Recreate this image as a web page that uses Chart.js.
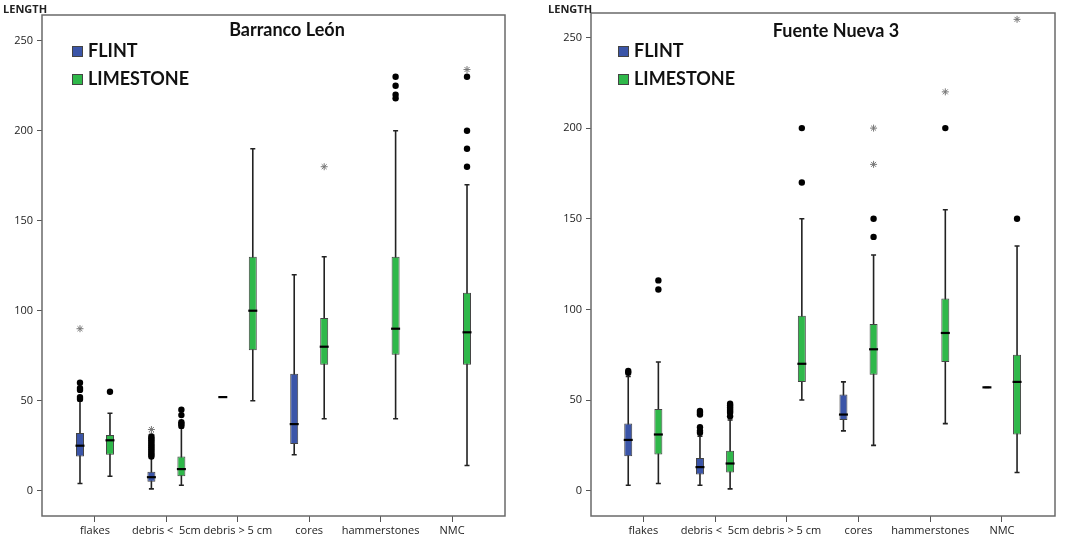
<!DOCTYPE html>
<html>
<head>
<meta charset="utf-8">
<script src="https://cdn.jsdelivr.net/npm/chart.js@4.4.1/dist/chart.umd.min.js"></script>
<style>
  body { margin: 0; background: #fff; }
  #wrap { position: relative; width: 1072px; height: 540px; overflow: hidden; }
  canvas { position: absolute; top: 0; }
  .axt { position: absolute; top: 1px; font: bold 11px 'Open Sans', sans-serif; color: #222; }
  .ttl { position: absolute; width: 300px; text-align: center; font: bold 18px Lato, sans-serif; color: #111; line-height: 20px; }
  .leg { position: absolute; font: bold 18px Lato, sans-serif; color: #111; line-height: 20px; }
  .leg i { position: absolute; width: 9px; height: 9px; border: 1px solid #444; }
</style>
</head>
<body>
<div id="wrap">
  <canvas id="bl" width="536" height="540" style="left:0"></canvas>
  <canvas id="fn" width="536" height="540" style="left:536px"></canvas>

  <div class="axt" style="left:3px">LENGTH</div>
  <div class="axt" style="left:548px">LENGTH</div>

  <div class="ttl" style="left:137px;top:19px">Barranco León</div>
  <div class="ttl" style="left:686px;top:20px">Fuente Nueva 3</div>

  <div class="leg" style="left:88px;top:40px">FLINT<i style="left:-16px;top:6px;background:#3b55a8"></i></div>
  <div class="leg" style="left:88px;top:68px">LIMESTONE<i style="left:-16px;top:6px;background:#2fb84a"></i></div>
  <div class="leg" style="left:634px;top:40px">FLINT<i style="left:-16px;top:6px;background:#3b55a8"></i></div>
  <div class="leg" style="left:634px;top:68px">LIMESTONE<i style="left:-16px;top:6px;background:#2fb84a"></i></div>
</div>

<script>
const categories = ['flakes', 'debris <  5cm', 'debris > 5 cm', 'cores', 'hammerstones', 'NMC'];
const yTicks = [0, 50, 100, 150, 200, 250];

// Barranco León
const blFlintLow = [4, 1, 52, 20, null, null];
const blFlintQ1  = [19, 5, 52, 26, null, null];
const blFlintMed = [25, 7.5, 52, 37, null, null];
const blFlintQ3  = [32, 10.5, 52, 65, null, null];
const blFlintHigh = [50, 18, 52, 120, null, null];
const blLimeLow = [8, 3, 50, 40, 40, 14];
const blLimeQ1  = [20, 8, 78, 70, 75.5, 70];
const blLimeMed = [28, 12, 100, 80, 90, 88];
const blLimeQ3  = [31, 19, 130, 96, 130, 110];
const blLimeHigh = [43, 35, 190, 130, 200, 170];
// outliers as [category index, value]
const blFlintOut = [[0, 51], [0, 52], [0, 56], [0, 57], [0, 60],
  [1, 19], [1, 20], [1, 21], [1, 22], [1, 23], [1, 24], [1, 25], [1, 26], [1, 27], [1, 28], [1, 29], [1, 30]];
const blFlintExt = [[0, 90], [1, 31], [1, 34]];
const blLimeOut = [[0, 55], [1, 36], [1, 37], [1, 38], [1, 42], [1, 45],
  [4, 218], [4, 220], [4, 225], [4, 230], [5, 180], [5, 190], [5, 200], [5, 230]];
const blLimeExt = [[3, 180], [5, 234]];

// Fuente Nueva 3
const fnFlintLow = [3, 3, null, 33, null, 57];
const fnFlintQ1  = [19, 9, null, 39, null, 57];
const fnFlintMed = [28, 13, null, 42, null, 57];
const fnFlintQ3  = [37, 18, null, 53, null, 57];
const fnFlintHigh = [63, 30, null, 60, null, 57];
const fnLimeLow = [4, 1, 50, 25, 37, 10];
const fnLimeQ1  = [20, 10, 60, 64, 71, 31];
const fnLimeMed = [31, 15, 70, 78, 87, 60];
const fnLimeQ3  = [45, 22, 96.5, 92, 106, 75];
const fnLimeHigh = [71, 39, 150, 130, 155, 135];
const fnFlintOut = [[0, 65], [0, 66], [1, 32], [1, 33], [1, 35], [1, 42], [1, 43], [1, 44]];
const fnFlintExt = [];
const fnLimeOut = [[0, 111], [0, 116], [1, 41], [1, 43], [1, 44], [1, 45], [1, 46], [1, 47], [1, 48],
  [2, 170], [2, 200], [3, 140], [3, 150], [4, 200], [5, 150]];
const fnLimeExt = [[3, 180], [3, 200], [4, 220], [5, 260]];

const FLINT = '#3b55a8';
const LIME = '#2fb84a';
const SHIFT = 0.21;

function boxData(low, q1, med, q3, high, shift) {
  const out = [];
  categories.forEach((c, i) => {
    if (q1[i] == null) return;
    out.push({ x: i + shift, y: [q1[i], q3[i]], low: low[i], med: med[i], high: high[i] });
  });
  return out;
}

function pts(list, shift) {
  return list.map(p => ({ x: p[0] + shift, y: p[1] }));
}

const boxPlugin = {
  id: 'boxparts',
  beforeDatasetsDraw(chart) {
    const ctx = chart.ctx, xs = chart.scales.x, ys = chart.scales.y;
    ctx.save();
    ctx.strokeStyle = '#222';
    chart.data.datasets.forEach(ds => {
      if (ds.type !== 'bar') return;
      ds.data.forEach(d => {
        const x = xs.getPixelForValue(d.x);
        const yl = ys.getPixelForValue(d.low), yh = ys.getPixelForValue(d.high);
        ctx.lineWidth = 1.6;
        ctx.beginPath();
        ctx.moveTo(x, yl); ctx.lineTo(x, yh);
        ctx.moveTo(x - 2.5, yl); ctx.lineTo(x + 2.5, yl);
        ctx.moveTo(x - 2.5, yh); ctx.lineTo(x + 2.5, yh);
        ctx.stroke();
      });
    });
    ctx.restore();
  },
  afterDatasetsDraw(chart) {
    const ctx = chart.ctx, xs = chart.scales.x, ys = chart.scales.y;
    ctx.save();
    ctx.strokeStyle = '#000';
    ctx.lineWidth = 2.2;
    chart.data.datasets.forEach(ds => {
      if (ds.type !== 'bar') return;
      ds.data.forEach(d => {
        const x = xs.getPixelForValue(d.x), y = ys.getPixelForValue(d.med);
        ctx.beginPath();
        ctx.moveTo(x - 4.5, y); ctx.lineTo(x + 4.5, y);
        ctx.stroke();
      });
    });
    const a = chart.chartArea;
    ctx.strokeStyle = '#6a6a6a';
    ctx.lineWidth = 1.5;
    ctx.strokeRect(a.left, a.top, a.right - a.left, a.bottom - a.top);
    ctx.restore();
  }
};

function makeChart(id, site) {
  const barDs = (data, color) => ({
    type: 'bar', data, backgroundColor: color, borderColor: '#444', borderWidth: 1,
    borderSkipped: false, grouped: false, maxBarThickness: 8, order: 2
  });
  const outDs = (data) => ({
    type: 'scatter', data, pointStyle: 'circle', pointRadius: 3.2,
    backgroundColor: '#000', borderColor: '#000', borderWidth: 0, order: 1
  });
  const extDs = (data) => ({
    type: 'scatter', data, pointStyle: 'star', pointRadius: 3.5,
    backgroundColor: '#777', borderColor: '#777', borderWidth: 1, order: 1
  });
  return new Chart(document.getElementById(id), {
    type: 'bar',
    data: {
      datasets: [
        barDs(boxData(site.fLow, site.fQ1, site.fMed, site.fQ3, site.fHigh, -SHIFT), FLINT),
        barDs(boxData(site.lLow, site.lQ1, site.lMed, site.lQ3, site.lHigh, SHIFT), LIME),
        outDs(pts(site.fOut, -SHIFT)),
        outDs(pts(site.lOut, SHIFT)),
        extDs(pts(site.fExt, -SHIFT)),
        extDs(pts(site.lExt, SHIFT))
      ]
    },
    options: {
      responsive: false,
      animation: false,
      layout: { padding: site.pad },
      plugins: { legend: { display: false }, tooltip: { enabled: false } },
      scales: {
        x: {
          type: 'linear', min: site.xMin, max: site.xMax, offset: false,
          afterBuildTicks: s => { s.ticks = categories.map((c, i) => ({ value: i })); },
          afterFit: s => { s.height = 24; },
          grid: { offset: false, drawOnChartArea: false, drawTicks: true, tickLength: 6, color: '#555' },
          border: { display: false },
          ticks: {
            callback: v => categories[v], autoSkip: false, maxRotation: 0, padding: 2,
            color: '#222', font: { family: 'Open Sans', size: 11 }
          }
        },
        y: {
          type: 'linear', min: site.yMin, max: site.yMax,
          afterBuildTicks: s => { s.ticks = yTicks.map(v => ({ value: v })); },
          afterFit: s => { s.width = site.yWidth; },
          grid: { drawOnChartArea: false, drawTicks: true, tickLength: 5, color: '#555' },
          border: { display: false },
          ticks: { padding: 4, color: '#222', font: { family: 'Open Sans', size: 11 } }
        }
      }
    },
    plugins: [boxPlugin]
  });
}

makeChart('bl', {
  fLow: blFlintLow, fQ1: blFlintQ1, fMed: blFlintMed, fQ3: blFlintQ3, fHigh: blFlintHigh,
  lLow: blLimeLow, lQ1: blLimeQ1, lMed: blLimeMed, lQ3: blLimeQ3, lHigh: blLimeHigh,
  fOut: blFlintOut, fExt: blFlintExt, lOut: blLimeOut, lExt: blLimeExt,
  pad: { left: 0, right: 31, top: 15, bottom: 0 }, yWidth: 42,
  xMin: -0.742, xMax: 5.742, yMin: -14.06, yMax: 264.3
});

makeChart('fn', {
  fLow: fnFlintLow, fQ1: fnFlintQ1, fMed: fnFlintMed, fQ3: fnFlintQ3, fHigh: fnFlintHigh,
  lLow: fnLimeLow, lQ1: fnLimeQ1, lMed: fnLimeMed, lQ3: fnLimeQ3, lHigh: fnLimeHigh,
  fOut: fnFlintOut, fExt: fnFlintExt, lOut: fnLimeOut, lExt: fnLimeExt,
  pad: { left: 0, right: 17, top: 13, bottom: 0 }, yWidth: 55,
  xMin: -0.729, xMax: 5.739, yMin: -13.96, yMax: 263.5
});
</script>
</body>
</html>
